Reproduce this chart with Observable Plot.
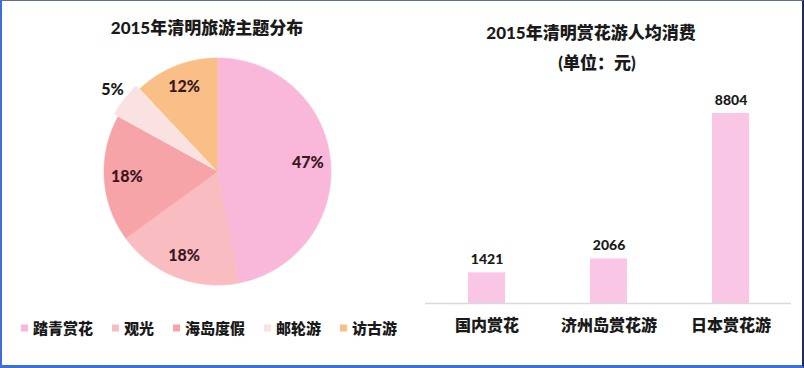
<!DOCTYPE html>
<html><head><meta charset="utf-8">
<script src="https://cdn.jsdelivr.net/npm/d3@7"></script>
<script src="https://cdn.jsdelivr.net/npm/@observablehq/plot@0.6"></script>
<style>
html,body{margin:0;padding:0;background:#fff;}
body{position:relative;width:804px;height:368px;overflow:hidden;font-family:Lato,"Noto Sans CJK SC",sans-serif;}
#frame{position:absolute;left:0;top:0;width:804px;height:368px;box-sizing:border-box;border-top:1px solid #5f6f8f;border-left:2px solid #3d6fd8;border-bottom:3px solid #3d6fd8;border-right:2px solid #1f2b5c;pointer-events:none;}
.t{position:absolute;font-weight:900;font-size:17px;color:#1a1a1a;white-space:nowrap;transform:translate(-50%,-50%);line-height:1;}
#pie{position:absolute;left:0;top:45px;}
#bar{position:absolute;left:402px;top:80px;}
#legend{position:absolute;left:21px;top:328px;transform:translateY(-50%);display:flex;align-items:center;gap:19px;font-weight:900;font-size:15px;color:#1a1a1a;line-height:1;}
.item{display:flex;align-items:center;gap:5px;}
.sw{width:7px;height:7px;display:inline-block;}
</style></head><body>
<div class="t" style="left:207px;top:27px;">2015年清明旅游主题分布</div>
<div class="t" style="left:591px;top:32px;">2015年清明赏花游人均消费</div>
<div class="t" style="left:597px;top:62px;">(单位：元)</div>
<div id="pie"></div>
<div id="bar"></div>
<div id="legend"></div>
<div id="frame"></div>
<script>
// ---- data ----
const pieCategories = ["踏青赏花", "观光", "海岛度假", "邮轮游", "访古游"];
const pieShares = [47, 18, 18, 5, 12];
const pieColors = ["#f9b8da", "#f9bdc1", "#f7a4a9", "#fbe2e2", "#f9bf86"];

const barCategories = ["国内赏花", "济州岛赏花游", "日本赏花游"];
const barValues = [1421, 2066, 8804];

const FONT = 'Lato, "Noto Sans CJK SC", sans-serif';

// ---- pie (built from d3.pie, drawn through Plot scales) ----
const W = 402, H = 255, R = 113.5, cx = 217, cy = 126;
const arcs = d3.pie().sort(null).value(d => d.share)(
  pieCategories.map((c, i) => ({cat: c, share: pieShares[i]}))
);
const total = d3.sum(pieShares);
const polys = [];
const labels = [];
arcs.forEach(a => {
  const mid = (a.startAngle + a.endAngle) / 2;
  const small = a.data.share / total < 0.06;
  const off = small ? 0.04 : 0;
  const ox = off * Math.sin(mid), oy = off * Math.cos(mid);
  const n = Math.max(4, Math.ceil((a.endAngle - a.startAngle) / 0.01));
  polys.push({cat: a.data.cat, x: ox, y: oy});
  for (let k = 0; k <= n; k++) {
    const t = a.startAngle + (a.endAngle - a.startAngle) * k / n;
    polys.push({cat: a.data.cat, x: ox + Math.sin(t), y: oy + Math.cos(t)});
  }
  polys.push({cat: a.data.cat, x: ox, y: oy});
  const lr = small ? 1.17 : 0.8;
  labels.push({cat: a.data.cat, x: lr * Math.sin(mid), y: lr * Math.cos(mid), text: a.data.share + "%", small});
});

const piePlot = Plot.plot({
  width: W, height: H,
  marginTop: 0, marginRight: 0, marginBottom: 0, marginLeft: 0,
  x: {domain: [-cx / R, (W - cx) / R], range: [0, W], axis: null},
  y: {domain: [-(H - cy) / R, cy / R], range: [H, 0], axis: null},
  color: {domain: pieCategories, range: pieColors},
  style: {background: "transparent", fontFamily: FONT},
  marks: [
    Plot.line(polys, {x: "x", y: "y", z: "cat", fill: "cat", stroke: "cat", strokeWidth: 0.6, curve: "linear"}),
    Plot.text(labels, {x: "x", y: "y", text: "text", fontSize: 16, fontWeight: 900,
      fill: d => d.small ? "#1a1a1a" : "#3a1620"})
  ]
});
document.getElementById("pie").appendChild(piePlot);

// ---- legend ----
const legend = document.getElementById("legend");
pieCategories.forEach((c, i) => {
  const it = document.createElement("div");
  it.className = "item";
  const sw = document.createElement("span");
  sw.className = "sw";
  sw.style.background = pieColors[i];
  const tx = document.createElement("span");
  tx.textContent = c;
  it.appendChild(sw); it.appendChild(tx);
  legend.appendChild(it);
});

// ---- bar chart ----
const barData = barCategories.map((c, i) => ({cat: c, value: barValues[i]}));
const barPlot = Plot.plot({
  width: 402, height: 265,
  marginLeft: 23, marginRight: 13, marginTop: 33, marginBottom: 42,
  x: {domain: barCategories, paddingInner: 0.7, paddingOuter: 0.35, label: null, tickSize: 0, tickPadding: 16},
  y: {domain: [0, d3.max(barValues)], axis: null},
  style: {background: "transparent", fontFamily: FONT, fontSize: "16px", fontWeight: 900, color: "#1a1a1a"},
  marks: [
    Plot.barY(barData, {x: "cat", y: "value", fill: "#f9c6e6"}),
    Plot.ruleY([0], {stroke: "#d9d9d9", strokeWidth: 1.5}),
    Plot.text(barData, {x: "cat", y: "value", text: d => String(d.value), dy: -13,
      fontSize: 14, fontWeight: 900, fill: "#1a1a1a"})
  ]
});
document.getElementById("bar").appendChild(barPlot);
</script>
</body></html>
